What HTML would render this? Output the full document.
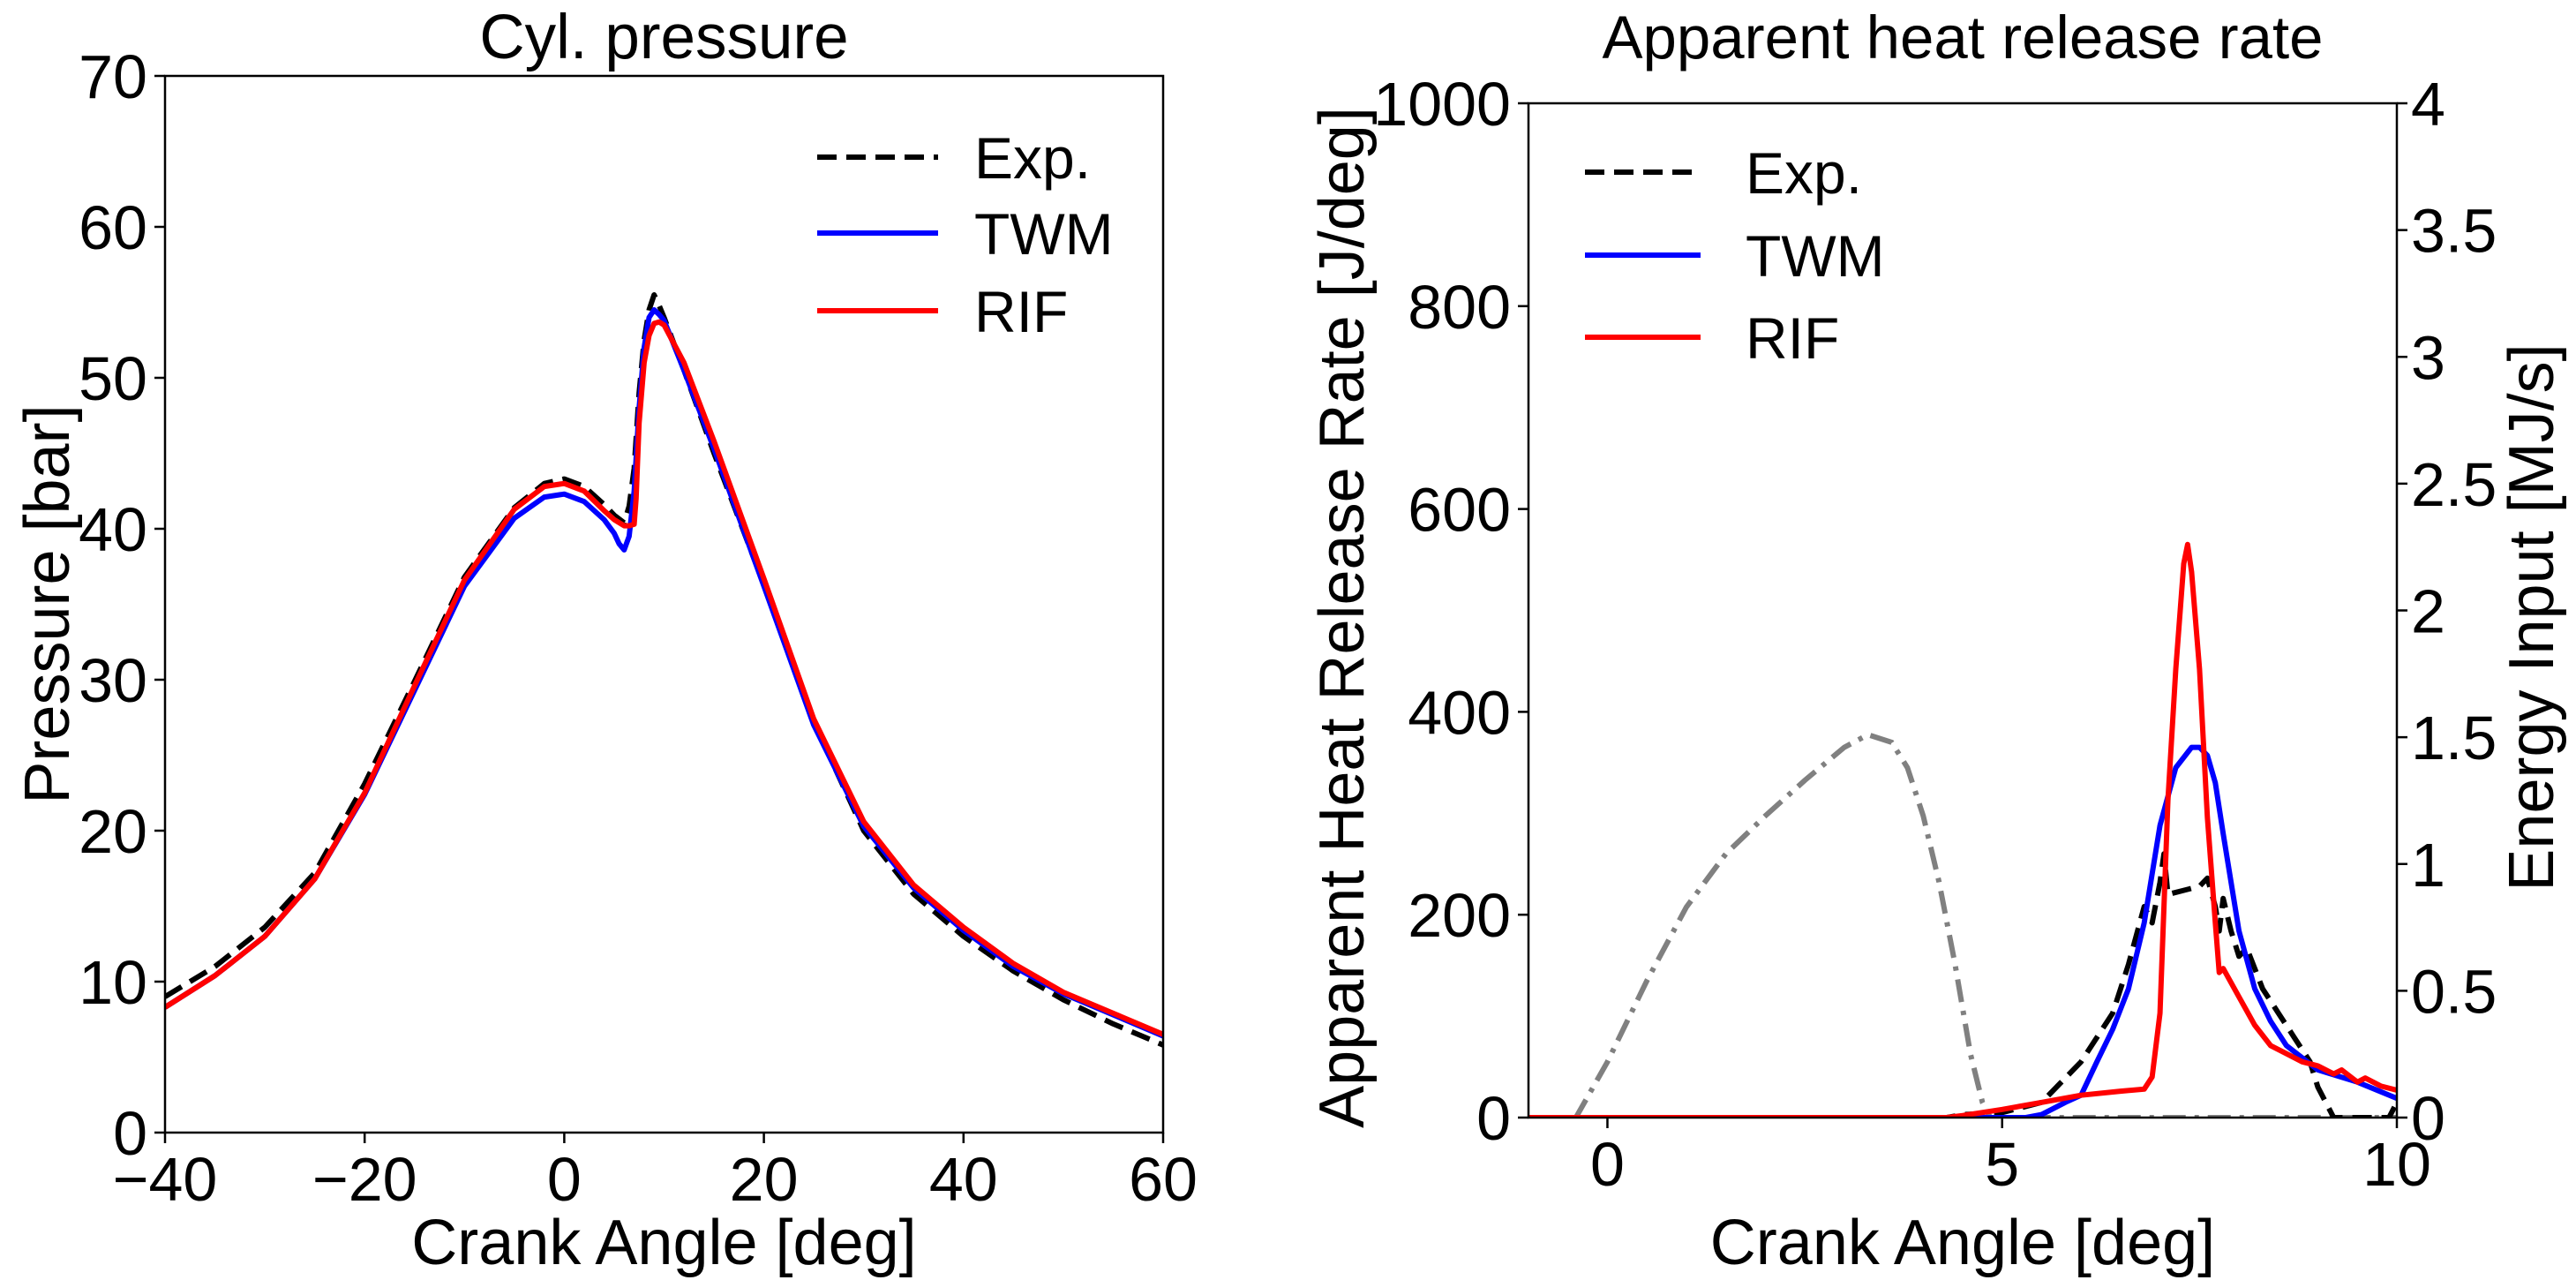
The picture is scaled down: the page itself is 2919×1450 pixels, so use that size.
<!DOCTYPE html>
<html><head><meta charset="utf-8"><style>
html,body{margin:0;padding:0;background:#fff;}
svg{display:block;font-family:"Liberation Sans",sans-serif;}
</style></head><body>
<svg id="fig" width="2919" height="1450" viewBox="0 0 2919 1450" xmlns="http://www.w3.org/2000/svg">
<g id="left"></g>
<g id="right"></g>
</svg>
<script>
// ---- Left chart data (Cyl. pressure) ----
const pExpX = [-40,-35,-30,-25,-20,-15,-10,-5,-2,0,2,4,5,6,6.5,7,7.5,8,8.5,9,9.5,10,12,15,20,25,30,35,40,45,50,55,60];
const pExpY = [9.0,11.0,13.6,17.2,23.1,29.9,36.8,41.4,43.0,43.3,42.8,41.6,40.9,40.4,41.5,44,49,52.5,54.5,55.5,54.8,54,50.5,45,36.3,27.2,20.0,15.8,13.0,10.7,8.8,7.2,5.8];
const pTwmX = [-40,-35,-30,-25,-20,-15,-10,-5,-2,0,2,4,5,5.5,6,6.5,7,7.5,8,8.5,9,9.5,10,12,15,20,25,30,35,40,45,50,55,60];
const pTwmY = [8.3,10.4,13.0,16.8,22.4,29.3,36.2,40.7,42.1,42.3,41.8,40.6,39.7,39.0,38.6,39.5,42.5,48,52,54,54.5,54.2,53.8,50.5,45.3,36.2,27.0,20.3,16.2,13.4,11.0,9.2,7.8,6.4];
const pRifX = [-40,-35,-30,-25,-20,-15,-10,-5,-2,0,2,4,5,6,6.5,7,7.2,7.5,8,8.5,9,9.5,10,12,15,20,25,30,35,40,45,50,55,60];
const pRifY = [8.3,10.4,13.0,16.8,22.5,29.6,36.6,41.3,42.8,43.0,42.5,41.2,40.6,40.2,40.2,40.3,42,47,51,52.8,53.6,53.7,53.5,51,45.8,36.7,27.4,20.6,16.4,13.6,11.2,9.3,7.9,6.5];
const pXTicks = [-40,-20,0,20,40,60];
const pXTickLabels = ["\u221240","\u221220","0","20","40","60"];
const pYTicks = [0,10,20,30,40,50,60,70];

// ---- Right chart data (Apparent heat release rate) ----
const hExpX = [-1,4.3,4.5,5,5.5,5.8,6,6.2,6.4,6.6,6.8,6.9,7.0,7.05,7.1,7.3,7.5,7.6,7.7,7.75,7.8,7.9,8.0,8.1,8.3,8.5,8.7,8.8,8.9,9.0,9.2,9.9,10];
const hExpY = [0,0,3,5,15,39,55,79,103,151,208,192,232,260,220,224,228,236,208,184,216,184,159,167,127,103,79,67,55,30,0,0,15];
const hTwmX = [-1,5.3,5.5,5.8,6.0,6.2,6.4,6.6,6.8,7.0,7.2,7.4,7.5,7.6,7.7,7.8,8.0,8.2,8.4,8.6,8.8,9.0,9.5,10];
const hTwmY = [0,0,3,15,22,55,87,127,192,288,345,365,365,357,330,280,184,127,95,71,59,47,35,19];
const hRifX = [-1,4.3,4.5,5,5.5,6,6.5,6.8,6.9,7.0,7.1,7.2,7.3,7.35,7.4,7.5,7.6,7.7,7.75,7.8,8.0,8.2,8.4,8.6,8.8,9.0,9.2,9.3,9.5,9.6,9.8,10];
const hRifY = [0,0,2,8,15,22,26,28,40,103,313,442,546,565,538,442,296,192,143,147,119,91,71,63,55,51,43,47,35,39,31,27];
const eInX = [-1,-0.4,0,0.5,1,1.5,2,2.5,3,3.3,3.6,3.8,4,4.2,4.4,4.6,4.75,4.85,10];
const eInY = [0,0,0.22,0.54,0.83,1.04,1.19,1.33,1.46,1.51,1.48,1.38,1.19,0.93,0.61,0.25,0.06,0,0];
const hXTicks = [0,5,10];
const hYTicks = [0,200,400,600,800,1000];
const eTicks = [0,0.5,1,1.5,2,2.5,3,3.5,4];
const eTickLabels = ["0","0.5","1","1.5","2","2.5","3","3.5","4"];

const NS="http://www.w3.org/2000/svg";
function mk(parent,tag,attrs){const e=document.createElementNS(NS,tag);for(const k in attrs)e.setAttribute(k,attrs[k]);parent.appendChild(e);return e;}
function txt(parent,x,y,s,size,anchor,extra){const t=mk(parent,'text',Object.assign({x:x,y:y,'font-size':size,'text-anchor':anchor||'middle',fill:'#000'},extra||{}));t.textContent=s;return t;}
function path(xs,ys,sx,sy){return xs.map((v,i)=>(i?'L':'M')+sx(v).toFixed(1)+','+sy(ys[i]).toFixed(1)).join(' ');}

// ===== Left panel =====
const L=document.getElementById('left');
const lx0=187,lx1=1318,ly0=86,ly1=1283;
const lsx=v=>lx0+(v+40)/100*(lx1-lx0);
const lsy=v=>ly1-v/70*(ly1-ly0);
let t=txt(L,(lx0+lx1)/2,66,'Cyl. pressure',71);


const lclip=mk(L,'clipPath',{id:'lc'});mk(lclip,'rect',{x:lx0,y:ly0,width:lx1-lx0,height:ly1-ly0});
const lData=mk(L,'g',{'clip-path':'url(#lc)'});
let p=mk(lData,'path',{d:path(pExpX,pExpY,lsx,lsy),fill:'none',stroke:'#000','stroke-width':6,'stroke-dasharray':'22,11','stroke-linejoin':'round'});


p=mk(lData,'path',{d:path(pTwmX,pTwmY,lsx,lsy),fill:'none',stroke:'#0000ff','stroke-width':6,'stroke-linejoin':'round'});


p=mk(lData,'path',{d:path(pRifX,pRifY,lsx,lsy),fill:'none',stroke:'#ff0000','stroke-width':6,'stroke-linejoin':'round'});


let fr=mk(L,'rect',{x:lx0,y:ly0,width:lx1-lx0,height:ly1-ly0,fill:'none',stroke:'#000','stroke-width':2.5});


pXTicks.forEach((v,i)=>{mk(L,'line',{x1:lsx(v),x2:lsx(v),y1:ly1,y2:ly1+12,stroke:'#000','stroke-width':2.5});
  const e=txt(L,lsx(v),ly1+77,pXTickLabels[i],70);
  
  });
pYTicks.forEach(v=>{mk(L,'line',{x1:lx0-12,x2:lx0,y1:lsy(v),y2:lsy(v),stroke:'#000','stroke-width':2.5});
  const e=txt(L,lx0-20,lsy(v)+25,String(v),70,'end');
  
  });
t=txt(L,(lx0+lx1)/2,1432,'Crank Angle [deg]',72);


t=txt(L,0,0,'Pressure [bar]',72,'middle',{transform:'translate(78,'+((ly0+ly1)/2)+') rotate(-90)'});


// legend
const lg=mk(L,'g',{});


[['Exp.','#000','22,11',178],['TWM','#0000ff','',264],['RIF','#ff0000','',352]].forEach(r=>{
  const a={x1:926,x2:1063,y1:r[3],y2:r[3],stroke:r[1],'stroke-width':6};if(r[2])a['stroke-dasharray']=r[2];
  mk(lg,'line',a);const e=txt(lg,1104,r[3]+24,r[0],66,'start');
  
  });

// ===== Right panel =====
const R=document.getElementById('right');
const rx0=1732,rx1=2716,ry0=117,ry1=1266;
const rsx=v=>rx0+(v+1)/11*(rx1-rx0);
const rsy=v=>ry1-v/1000*(ry1-ry0);
const esy=v=>ry1-v/4*(ry1-ry0);
t=txt(R,(rx0+rx1)/2,66,'Apparent heat release rate',69);


const rclip=mk(R,'clipPath',{id:'rc'});mk(rclip,'rect',{x:rx0,y:ry0-5,width:rx1-rx0,height:ry1-ry0+5});
const rData=mk(R,'g',{'clip-path':'url(#rc)'});
p=mk(rData,'path',{d:path(eInX,eInY,rsx,esy),fill:'none',stroke:'#808080','stroke-width':6,'stroke-dasharray':'26,10,5,10'});


p=mk(rData,'path',{d:path(hExpX,hExpY,rsx,rsy),fill:'none',stroke:'#000','stroke-width':6,'stroke-dasharray':'22,11','stroke-linejoin':'round'});


p=mk(rData,'path',{d:path(hTwmX,hTwmY,rsx,rsy),fill:'none',stroke:'#0000ff','stroke-width':6,'stroke-linejoin':'round'});


p=mk(rData,'path',{d:path(hRifX,hRifY,rsx,rsy),fill:'none',stroke:'#ff0000','stroke-width':6,'stroke-linejoin':'round'});


fr=mk(R,'rect',{x:rx0,y:ry0,width:rx1-rx0,height:ry1-ry0,fill:'none',stroke:'#000','stroke-width':2.5});


hXTicks.forEach(v=>{mk(R,'line',{x1:rsx(v),x2:rsx(v),y1:ry1,y2:ry1+12,stroke:'#000','stroke-width':2.5});
  const e=txt(R,rsx(v),ry1+77,String(v),70);
  
  });
hYTicks.forEach(v=>{mk(R,'line',{x1:rx0-12,x2:rx0,y1:rsy(v),y2:rsy(v),stroke:'#000','stroke-width':2.5});
  const e=txt(R,rx0-20,rsy(v)+25,String(v),70,'end');
  
  });
eTicks.forEach((v,i)=>{mk(R,'line',{x1:rx1,x2:rx1+12,y1:esy(v),y2:esy(v),stroke:'#000','stroke-width':2.5});
  const e=txt(R,rx1+16,esy(v)+25,eTickLabels[i],70,'start');
  
  });
t=txt(R,(rx0+rx1)/2,1432,'Crank Angle [deg]',72);


t=txt(R,0,0,'Apparent Heat Release Rate [J/deg]',72,'middle',{transform:'translate(1545,'+((ry0+ry1)/2+8)+') rotate(-90)'});


t=txt(R,0,0,'Energy Input [MJ/s]',72,'middle',{transform:'translate(2893,'+((ry0+ry1)/2+8)+') rotate(-90)'});


const rg=mk(R,'g',{});


[['Exp.','#000','22,11',195],['TWM','#0000ff','',289],['RIF','#ff0000','',382]].forEach(r=>{
  const a={x1:1796,x2:1927,y1:r[3],y2:r[3],stroke:r[1],'stroke-width':6};if(r[2])a['stroke-dasharray']=r[2];
  mk(rg,'line',a);const e=txt(rg,1978,r[3]+24,r[0],66,'start');
  
  });
</script>
</body></html>
